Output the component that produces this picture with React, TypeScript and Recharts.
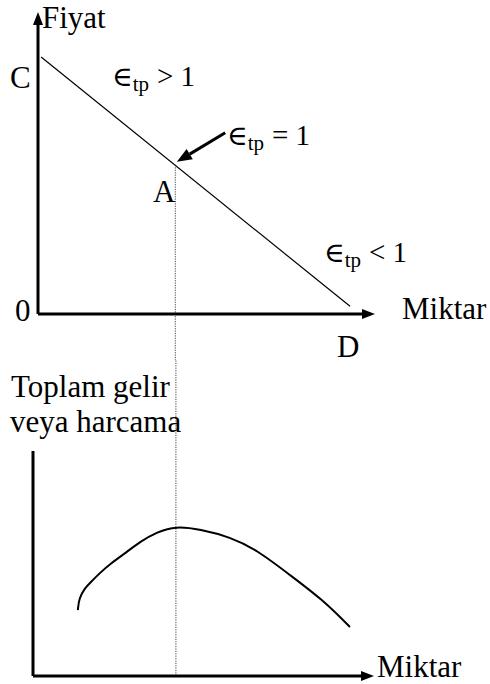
import React from "react";
import { ComposedChart, Line, XAxis, YAxis, ReferenceLine } from "recharts";

// talep doğrusu (C -> D)
const demandQuantity = [0.1, 10];
const demandPrice = [10, 0.3];

// A noktası (birim esneklik)
const pointAQuantity = 4.4;
const pointAPrice = 5.8;

// toplam gelir eğrisi
const revenueQuantity = [1.38, 1.42, 1.6, 1.75, 2.06, 2.37, 2.89, 3.29, 3.82, 4.4, 5.14, 6.07, 6.9, 7.91, 8.93, 9.76];
const revenueValue = [2.93, 3.47, 3.91, 4.13, 4.58, 4.98, 5.51, 5.96, 6.4, 6.66, 6.52, 6.18, 5.6, 4.49, 3.38, 2.18];

const demandData = demandQuantity.map((q, i) => ({ q, p: demandPrice[i] }));
const revenueData = revenueQuantity.map((q, i) => ({ q, r: revenueValue[i] }));

const serif = '"Liberation Serif", "Times New Roman", serif';

// çizgi + ok başı (x2,y2 ucunda)
const makeArrow = (len: number, w: number, sw: number, head = true) => (props: any) => {
  const { x1, y1, x2, y2 } = props;
  const ang = Math.atan2(y2 - y1, x2 - x1);
  const bx = head ? x2 - len * Math.cos(ang) : x2;
  const by = head ? y2 - len * Math.sin(ang) : y2;
  const px = -Math.sin(ang) * w;
  const py = Math.cos(ang) * w;
  return (
    <g>
      <line x1={x1} y1={y1} x2={bx} y2={by} stroke="#000" strokeWidth={sw} />
      {head && <polygon points={`${x2},${y2} ${bx + px},${by + py} ${bx - px},${by - py}`} fill="#000" />}
    </g>
  );
};

const AxisArrow = makeArrow(13, 5, 3);
const AxisPlain = makeArrow(0, 0, 3, false);
const Pointer = makeArrow(15, 6, 3);

const Eps = ({ x, y, rest }: { x: number; y: number; rest: string }) => (
  <text x={x - 1} y={y} fontSize={29}>
    <tspan fontFamily='"DejaVu Serif", serif' fontSize={28}>∈</tspan>
    <tspan dy={5} fontSize={21}>tp</tspan>
    <tspan x={x + 44} y={y}>{rest}</tspan>
  </text>
);

const dotted = { stroke: "#444", strokeWidth: 1, strokeDasharray: "1.2 1.2" };

export default function App() {
  return (
    <div style={{ position: "absolute", left: 0, top: 0, width: 490, height: 684, background: "#fff" }}>
      <div style={{ position: "absolute", left: 0, top: 0 }}>
        <ComposedChart width={490} height={360} data={demandData} margin={{ top: 12, right: 115, bottom: 46, left: 38 }}>
          <XAxis type="number" dataKey="q" domain={[0, 10.8]} hide allowDataOverflow />
          <YAxis type="number" domain={[0, 11.75]} hide allowDataOverflow />
          <ReferenceLine
            segment={[{ x: pointAQuantity, y: pointAPrice }, { x: pointAQuantity, y: -1.8 }]}
            {...dotted}
            ifOverflow="visible"
          />
          <Line dataKey="p" type="linear" stroke="#000" strokeWidth={1.2} dot={false} isAnimationActive={false} />
          <ReferenceLine segment={[{ x: 0, y: 0 }, { x: 10.8, y: 0 }]} ifOverflow="visible" shape={AxisArrow} />
          <ReferenceLine segment={[{ x: 0, y: 0 }, { x: 0, y: 11.75 }]} ifOverflow="visible" shape={AxisArrow} />
          <ReferenceLine segment={[{ x: 6.0, y: 7.05 }, { x: 4.45, y: 5.92 }]} ifOverflow="visible" shape={Pointer} />
        </ComposedChart>
      </div>
      <div style={{ position: "absolute", left: 0, top: 360 }}>
        <ComposedChart width={490} height={324} data={revenueData} margin={{ top: 91, right: 116, bottom: 8, left: 33 }}>
          <XAxis type="number" dataKey="q" domain={[0, 10.5]} hide allowDataOverflow />
          <YAxis type="number" domain={[0, 10]} hide allowDataOverflow />
          <ReferenceLine
            segment={[{ x: pointAQuantity, y: 0 }, { x: pointAQuantity, y: 14.05 }]}
            {...dotted}
            ifOverflow="visible"
          />
          <Line dataKey="r" type="basis" stroke="#000" strokeWidth={2} dot={false} isAnimationActive={false} />
          <ReferenceLine segment={[{ x: 0, y: 0 }, { x: 10.5, y: 0 }]} ifOverflow="visible" shape={AxisArrow} />
          <ReferenceLine segment={[{ x: 0, y: 0 }, { x: 0, y: 10 }]} ifOverflow="visible" shape={AxisPlain} />
        </ComposedChart>
      </div>
      <svg
        width={490}
        height={684}
        style={{ position: "absolute", left: 0, top: 0, pointerEvents: "none", fontFamily: serif }}
        fill="#000"
      >
        <text x={42} y={28} fontSize={31}>Fiyat</text>
        <text x={10} y={88} fontSize={31}>C</text>
        <text x={153} y={202} fontSize={31}>A</text>
        <text x={15} y={321} fontSize={31}>0</text>
        <text x={402} y={319} fontSize={31}>Miktar</text>
        <text x={337} y={357} fontSize={31}>D</text>
        <Eps x={113} y={86} rest="> 1" />
        <Eps x={228} y={145} rest="= 1" />
        <Eps x={325} y={262} rest="< 1" />
        <text x={11} y={397} fontSize={31}>Toplam gelir</text>
        <text x={10} y={432} fontSize={31}>veya harcama</text>
        <text x={377} y={677} fontSize={31}>Miktar</text>
      </svg>
    </div>
  );
}
